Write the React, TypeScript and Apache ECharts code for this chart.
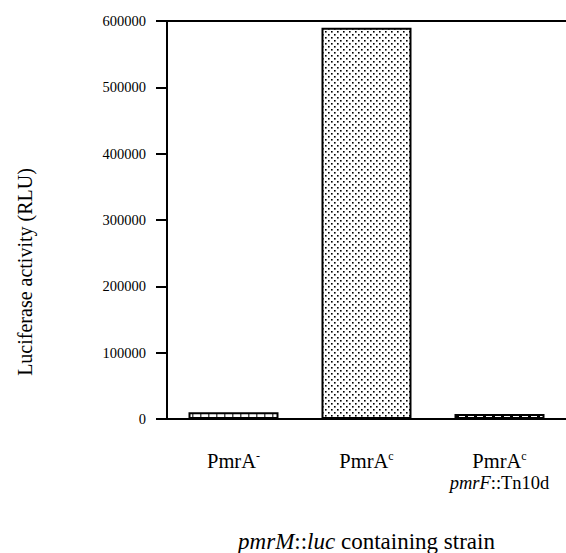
import React, { useEffect, useRef } from "react";
import * as echarts from "echarts";

const categories = ["PmrA-", "PmrAc", "PmrAc pmrF::Tn10d"];
const categoryRich = [
  "{n|PmrA}{sup|-}",
  "{n|PmrA}{sup|c}",
  "{n|PmrA}{sup|c}\n{i2|pmrF}{n2|::Tn10d}",
];
const values = [10000, 590000, 7500];
const yTicks = [0, 100000, 200000, 300000, 400000, 500000, 600000];
const yTitle = "Luciferase activity (RLU)";
const xTitle = "{i|pmrM}{n|::}{i|luc}{n| containing strain}";

const FONT = "Liberation Serif";

function makeTile(w: number, h: number, draw: (ctx: CanvasRenderingContext2D) => void) {
  const c = document.createElement("canvas");
  c.width = w;
  c.height = h;
  const ctx = c.getContext("2d")!;
  draw(ctx);
  return c;
}

export default function App() {
  const ref = useRef<HTMLDivElement>(null);
  useEffect(() => {
    const chart = echarts.init(ref.current!, null, { renderer: "svg" });

    const dots = makeTile(6, 6, (ctx) => {
      ctx.fillStyle = "#fff";
      ctx.fillRect(0, 0, 6, 6);
      ctx.fillStyle = "#000";
      ctx.fillRect(1, 1, 1.6, 1.6);
      ctx.fillRect(4, 4, 1.6, 1.6);
    });
    const ticks = makeTile(8, 6, (ctx) => {
      ctx.fillStyle = "#fff";
      ctx.fillRect(0, 0, 8, 6);
      ctx.fillStyle = "#555";
      ctx.fillRect(0, 0, 1.5, 6);
    });
    const dashes = makeTile(9, 6, (ctx) => {
      ctx.fillStyle = "#000";
      ctx.fillRect(0, 0, 9, 6);
      ctx.fillStyle = "#fff";
      ctx.fillRect(0, 0, 6, 6);
    });
    const patterns = [ticks, dots, dashes].map((img) => ({
      image: img,
      repeat: "repeat",
      imageWidth: img.width,
      imageHeight: img.height,
    }));

    const rich = {
      n: { fontFamily: FONT, fontSize: 20.5, color: "#000", lineHeight: 22 },
      n2: { fontFamily: FONT, fontSize: 18.5, color: "#000", lineHeight: 22 },
      i2: { fontFamily: FONT, fontSize: 18.5, color: "#000", fontStyle: "italic", lineHeight: 22 },
      sup: { fontFamily: FONT, fontSize: 12, color: "#000", verticalAlign: "top", lineHeight: 12, padding: [0, 0, 9, 0] },
    };
    const titleRich = {
      n: { fontFamily: FONT, fontSize: 23, color: "#000" },
      i: { fontFamily: FONT, fontSize: 23, color: "#000", fontStyle: "italic" },
    };

    chart.setOption({
      animation: false,
      grid: { left: 167, right: 0, top: 21, bottom: 134, containLabel: false, outerBoundsMode: "none" },
      xAxis: [
        {
          type: "category",
          data: categories,
          position: "bottom",
          axisLine: { lineStyle: { color: "#000", width: 2 } },
          axisTick: { alignWithLabel: true, interval: 0, length: 10, lineStyle: { color: "#000", width: 2 } },
          axisLabel: {
            interval: 0,
            hideOverlap: false,
            margin: 31,
            formatter: (_v: string, idx: number) => categoryRich[idx],
            rich,
          },
          name: xTitle,
          nameLocation: "middle",
          nameGap: 122,
          nameTextStyle: { rich: titleRich, verticalAlign: "middle" },
        },
        {
          type: "category",
          data: categories,
          position: "top",
          axisLine: { lineStyle: { color: "#000", width: 2 } },
          axisTick: { show: false },
          axisLabel: { show: false },
        },
      ],
      yAxis: {
        type: "value",
        min: yTicks[0],
        max: yTicks[yTicks.length - 1],
        interval: yTicks[1] - yTicks[0],
        axisLine: { show: true, lineStyle: { color: "#000", width: 2 } },
        axisTick: { show: true, length: 11, lineStyle: { color: "#000", width: 2 } },
        axisLabel: {
          margin: 21,
          fontFamily: FONT,
          fontSize: 14.5,
          color: "#000",
          formatter: (v: number) => String(v),
        },
        splitLine: { show: false },
      },
      graphic: [
        {
          type: "text",
          x: 25,
          y: 272,
          rotation: Math.PI / 2,
          style: {
            text: yTitle,
            font: `20px "${FONT}"`,
            fill: "#000",
            align: "center",
            verticalAlign: "middle",
          },
        },
      ],
      series: [
        {
          type: "bar",
          barWidth: 90,
          data: values.map((v, i) => ({
            value: v,
            itemStyle: { color: patterns[i], borderColor: "#000", borderWidth: 2 },
          })),
        },
      ],
    });
    return () => chart.dispose();
  }, []);
  return (
    <div
      ref={ref}
      style={{ position: "fixed", left: 0, top: 0, width: 566, height: 553, background: "#fff" }}
    />
  );
}
